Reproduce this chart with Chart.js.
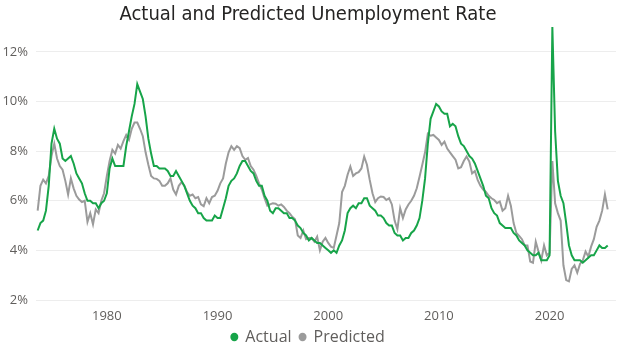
<!DOCTYPE html>
<html lang="en">
  <head>
    <meta charset="UTF-8" />
    <title>Actual and Predicted Unemployment Rate</title>
    <script src="https://cdn.jsdelivr.net/npm/chart.js"></script>
    <style>
      html, body { margin: 0; padding: 0; background: #fff; }
      #wrap { width: 624px; height: 349px; }
    </style>
  </head>
  <body>
    <div id="wrap"><canvas id="rateChart" width="624" height="349"></canvas></div>

  <script>
    // quarterly series, first point is 1973 Q4, last is 2025 Q2
    const firstQuarter = 1973.75;

    const actual = [
      4.8,
      5.1, 5.2, 5.6, 6.6,   8.3, 8.9, 8.5, 8.3,   7.7, 7.6, 7.7, 7.8,   7.5, 7.1, 6.9, 6.7,
      6.3, 6.0, 6.0, 5.9,   5.9, 5.7, 5.9, 6.0,   6.3, 7.3, 7.7, 7.4,   7.4, 7.4, 7.4, 8.2,
      8.8, 9.4, 9.9, 10.7,  10.4, 10.1, 9.4, 8.5, 7.9, 7.4, 7.4, 7.3,   7.3, 7.3, 7.2, 7.0,
      7.0, 7.2, 7.0, 6.8,   6.6, 6.3, 6.0, 5.8,   5.7, 5.5, 5.5, 5.3,   5.2, 5.2, 5.2, 5.4,
      5.3, 5.3, 5.7, 6.1,   6.6, 6.8, 6.9, 7.1,   7.4, 7.6, 7.6, 7.4,   7.2, 7.1, 6.8, 6.6,
      6.6, 6.2, 6.0, 5.6,   5.5, 5.7, 5.7, 5.6,   5.5, 5.5, 5.3, 5.3,   5.2, 5.0, 4.9, 4.7,
      4.6, 4.4, 4.5, 4.4,   4.3, 4.3, 4.2, 4.1,   4.0, 3.9, 4.0, 3.9,   4.2, 4.4, 4.8, 5.5,
      5.7, 5.8, 5.7, 5.9,   5.9, 6.1, 6.1, 5.8,   5.7, 5.6, 5.4, 5.4,   5.3, 5.1, 5.0, 5.0,
      4.7, 4.6, 4.6, 4.4,   4.5, 4.5, 4.7, 4.8,   5.0, 5.3, 6.0, 6.9,   8.3, 9.3, 9.6, 9.9,
      9.8, 9.6, 9.5, 9.5,   9.0, 9.1, 9.0, 8.6,   8.3, 8.2, 8.0, 7.8,   7.7, 7.5, 7.2, 6.9,
      6.6, 6.2, 6.1, 5.7,   5.5, 5.4, 5.1, 5.0,   4.9, 4.9, 4.9, 4.7,   4.6, 4.4, 4.3, 4.2,
      4.0, 3.9, 3.8, 3.8,   3.9, 3.6, 3.6, 3.6,   3.8, 13.0, 8.8, 6.8,  6.2, 5.9, 5.1, 4.2,
      3.8, 3.6, 3.6, 3.6,   3.5, 3.6, 3.7, 3.8,   3.8, 4.0, 4.2, 4.1,
      4.1, 4.2
    ];

    const predicted = [
      5.6,
      6.6, 6.85, 6.7, 7.0,  7.8, 8.3, 7.7, 7.4,   7.25, 6.8, 6.25, 6.9,  6.5, 6.2, 6.05, 5.95,
      6.0, 5.15, 5.5, 5.05, 5.65, 5.5, 6.0, 6.3,  7.0, 7.6, 8.05, 7.9,   8.25, 8.1, 8.4, 8.65,
      8.45, 8.9, 9.15, 9.15, 8.9, 8.6, 7.95, 7.45, 7.0, 6.9, 6.88, 6.8,  6.6, 6.6, 6.7, 6.9,
      6.45, 6.25, 6.6, 6.75, 6.6, 6.35, 6.2, 6.25, 6.1, 6.15, 5.85, 5.78, 6.1, 5.9, 6.15, 6.2,
      6.4, 6.7, 6.9, 7.5,   7.95, 8.2, 8.05, 8.2,  8.12, 7.8, 7.65, 7.72, 7.4, 7.25, 7.0, 6.7,
      6.45, 6.1, 5.8, 5.85, 5.9, 5.88, 5.8, 5.85, 5.75, 5.6, 5.5, 5.35,  5.25, 4.6, 4.5, 4.8,
      4.45, 4.5, 4.5, 4.35, 4.55, 4.0, 4.35, 4.5, 4.3, 4.15, 4.1, 4.6,   5.1, 6.35, 6.6, 7.05,
      7.38, 7.0, 7.1, 7.15, 7.3, 7.78, 7.45, 6.84, 6.3, 5.95, 6.1, 6.17, 6.15, 6.03, 6.1, 5.85,
      5.2, 4.85, 5.7, 5.3,  5.65, 5.85, 6.0, 6.2,  6.5, 6.97, 7.45, 7.95, 8.7, 8.62, 8.65, 8.55,
      8.45, 8.25, 8.38, 8.1, 7.95, 7.8, 7.65, 7.3, 7.35, 7.6, 7.78, 7.58, 7.1, 7.2, 6.84, 6.6,
      6.45, 6.35, 6.2, 6.1, 6.03, 5.9, 5.97, 5.6, 5.7, 6.2, 5.8, 5.1,    4.7, 4.58, 4.45, 4.2,
      4.2, 3.55, 3.5, 4.35, 3.95, 3.6, 4.2, 3.8,  3.9, 7.6, 5.9, 5.5,    5.2, 3.4, 2.8, 2.75,
      3.25, 3.4, 3.1, 3.45, 3.6, 3.95, 3.75, 4.15, 4.45, 4.95, 5.2, 5.6,
      6.25, 5.65
    ];

    const yearTicks = [1980, 1990, 2000, 2010, 2020];
    const rateTicks = [2, 4, 6, 8, 10, 12];

    const toPoints = (arr) => arr.map((v, i) => ({ x: firstQuarter + i / 4, y: v }));

    const ctx = document.getElementById("rateChart").getContext("2d");
    new Chart(ctx, {
      type: "line",
      data: {
        datasets: [
          {
            label: "Actual",
            data: toPoints(actual),
            borderColor: "#17A449",
            backgroundColor: "#17A449",
            borderWidth: 2,
            pointRadius: 0,
            tension: 0,
          },
          {
            label: "Predicted",
            data: toPoints(predicted),
            borderColor: "#9B9B9B",
            backgroundColor: "#9B9B9B",
            borderWidth: 2,
            pointRadius: 0,
            tension: 0,
          },
        ],
      },
      options: {
        responsive: false,
        animation: false,
        layout: { padding: { left: 0, right: 8, top: 0, bottom: 0 } },
        scales: {
          x: {
            type: "linear",
            min: 1973.6,
            max: 2026.0,
            afterBuildTicks: (scale) => {
              scale.ticks = yearTicks.map((v) => ({ value: v }));
            },
            afterFit: (scale) => {
              scale.height = 21;
            },
            grid: { display: false },
            border: { display: false },
            ticks: {
              color: "#605E5C",
              font: { family: "Open Sans", size: 13 },
              padding: 0,
              maxRotation: 0,
              callback: (v) => String(v),
            },
          },
          y: {
            min: 2,
            max: 13,
            afterBuildTicks: (scale) => {
              scale.ticks = rateTicks.map((v) => ({ value: v }));
            },
            afterFit: (scale) => {
              scale.width = 36;
            },
            grid: { color: "#EDEDED", lineWidth: 1, drawTicks: false },
            border: { display: false },
            ticks: {
              color: "#605E5C",
              font: { family: "Open Sans", size: 13 },
              padding: 8,
              callback: (v) => v + "%",
            },
          },
        },
        plugins: {
          title: {
            display: true,
            text: "Actual and Predicted Unemployment Rate",
            color: "#252423",
            font: { family: "DejaVu Sans Condensed", size: 20, weight: "normal" },
            padding: { top: 3, bottom: 0 },
          },
          legend: {
            display: true,
            position: "bottom",
            maxHeight: 28,
            labels: {
              usePointStyle: true,
              pointStyle: "circle",
              boxHeight: 4.5,
              pointStyleWidth: 6,
              padding: 8,
              color: "#605E5C",
              font: { family: "Open Sans", size: 16 },
            },
          },
          tooltip: { enabled: false },
        },
      },
    });
  </script>
  </body>
</html>
